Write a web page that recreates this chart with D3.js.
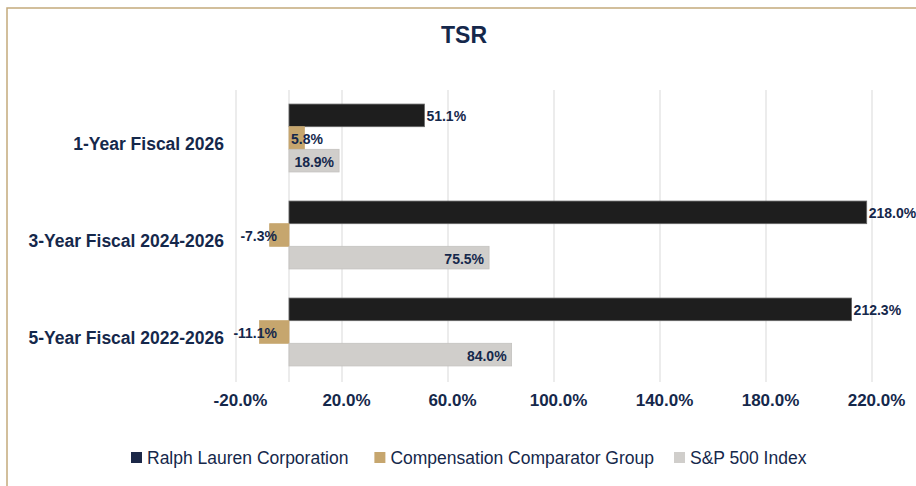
<!DOCTYPE html>
<html>
<head>
<meta charset="utf-8">
<script src="https://cdn.jsdelivr.net/npm/d3@7"></script>
<style>
  body { margin: 0; background: #fff; }
  svg { display: block; font-family: "Liberation Sans", Arial, sans-serif; }
</style>
</head>
<body>
<svg id="drawing_region"></svg>
<script>
// data
const categories = ["1-Year Fiscal 2026", "3-Year Fiscal 2024-2026", "5-Year Fiscal 2022-2026"];
const seriesNames = ["Ralph Lauren Corporation", "Compensation Comparator Group", "S&P 500 Index"];
const ralphLauren = [51.1, 218.0, 212.3];
const comparator = [5.8, -7.3, -11.1];
const sp500 = [18.9, 75.5, 84.0];
const xTicks = [-20, 20, 60, 100, 140, 180, 220];

const width = 916, height = 486;
const navy = '#15284b';
const barColors = ['#1e1e1e', '#c6a66e', '#d0cecb'];
const legendColors = ['#1c2848', '#c6a66e', '#d0cecb'];
const barStrokes = ['#666', '#c6a66e', '#c4c2bf'];

const svg = d3.select('#drawing_region')
    .attr('width', width)
    .attr('height', height);

// frame: only top and left edges show
svg.append('rect')
    .attr('x', 7).attr('y', 8)
    .attr('width', width + 20).attr('height', height + 20)
    .attr('fill', 'none')
    .attr('stroke', '#c4aa7c')
    .attr('stroke-width', 1.5);

svg.append('text')
    .attr('x', 464).attr('y', 35)
    .attr('text-anchor', 'middle')
    .attr('dominant-baseline', 'central')
    .attr('font-size', 23).attr('font-weight', 'bold')
    .attr('fill', navy)
    .text('TSR');

const plotTop = 90, plotBottom = 380;

const data = categories.map((c, i) => ({
  category: c,
  values: [ralphLauren[i], comparator[i], sp500[i]]
}));

// scales
const xscale = d3.scaleLinear()
    .domain([-20, 220])
    .range([236, 872]);

const yscale = d3.scaleBand()
    .domain(categories)
    .range([plotTop, plotBottom])
    .paddingInner(0.3)
    .paddingOuter(0.145);

const inner = d3.scaleBand()
    .domain(d3.range(seriesNames.length))
    .range([0, yscale.bandwidth()]);

// gridlines (ticks plus the zero line)
svg.append('g').selectAll('line')
    .data(xTicks.concat([0]))
    .enter().append('line')
    .attr('x1', d => xscale(d)).attr('x2', d => xscale(d))
    .attr('y1', plotTop).attr('y2', plotBottom + 2)
    .attr('stroke', '#d9d9d9')
    .attr('stroke-width', 1);

// x axis labels
const xaxis = d3.axisBottom(xscale)
    .tickValues(xTicks)
    .tickSize(0)
    .tickPadding(0)
    .tickFormat(d => d.toFixed(1) + '%');

const xg = svg.append('g')
    .attr('transform', `translate(4, ${plotBottom + 14})`)
    .call(xaxis);
xg.select('.domain').remove();
xg.selectAll('text')
    .attr('font-size', 17).attr('font-weight', 'bold')
    .attr('font-family', '"Liberation Sans", Arial, sans-serif')
    .attr('fill', navy);

// category labels
svg.append('g').selectAll('text')
    .data(categories)
    .enter().append('text')
    .attr('x', 224)
    .attr('y', d => yscale(d) + yscale.bandwidth() / 2 + 6)
    .attr('text-anchor', 'end')
    .attr('dominant-baseline', 'central')
    .attr('font-size', 17.5).attr('font-weight', 'bold')
    .attr('fill', navy)
    .text(d => d);

// bars
const groups = svg.append('g').selectAll('g')
    .data(data)
    .enter().append('g')
    .attr('transform', d => `translate(0, ${yscale(d.category)})`);

groups.selectAll('rect')
    .data(d => d.values.map((v, s) => ({ v, s })))
    .enter().append('rect')
    .attr('x', d => xscale(Math.min(0, d.v)))
    .attr('y', d => inner(d.s))
    .attr('width', d => Math.abs(xscale(d.v) - xscale(0)))
    .attr('height', inner.bandwidth())
    .attr('fill', d => barColors[d.s])
    .attr('stroke', d => barStrokes[d.s])
    .attr('stroke-width', 0.8);

// value labels
function labelX(d) {
  const x0 = xscale(0);
  if (d.s === 0) return xscale(d.v) + 2;
  if (d.s === 1) return d.v >= 0 ? x0 + 2 : x0 - 12;
  return xscale(d.v) - 5;
}
function labelAnchor(d) {
  if (d.s === 0) return 'start';
  if (d.s === 1) return d.v >= 0 ? 'start' : 'end';
  return 'end';
}

groups.selectAll('text')
    .data(d => d.values.map((v, s) => ({ v, s })))
    .enter().append('text')
    .attr('x', labelX)
    .attr('y', d => inner(d.s) + inner.bandwidth() / 2 + 1)
    .attr('text-anchor', labelAnchor)
    .attr('dominant-baseline', 'central')
    .attr('font-size', 14).attr('font-weight', 'bold')
    .attr('fill', navy)
    .text(d => d.v.toFixed(1) + '%');

// legend
const legend = svg.append('g');
let lx = 131;
const gaps = [26, 20, 0];
seriesNames.forEach((name, i) => {
  legend.append('rect')
      .attr('x', lx).attr('y', 452)
      .attr('width', 11).attr('height', 11)
      .attr('fill', legendColors[i]);
  const t = legend.append('text')
      .attr('x', lx + 16).attr('y', 458)
      .attr('dominant-baseline', 'central')
      .attr('font-size', 17.5)
      .attr('fill', navy)
      .text(name);
  lx += 16 + t.node().getComputedTextLength() + gaps[i];
});
</script>
</body>
</html>
